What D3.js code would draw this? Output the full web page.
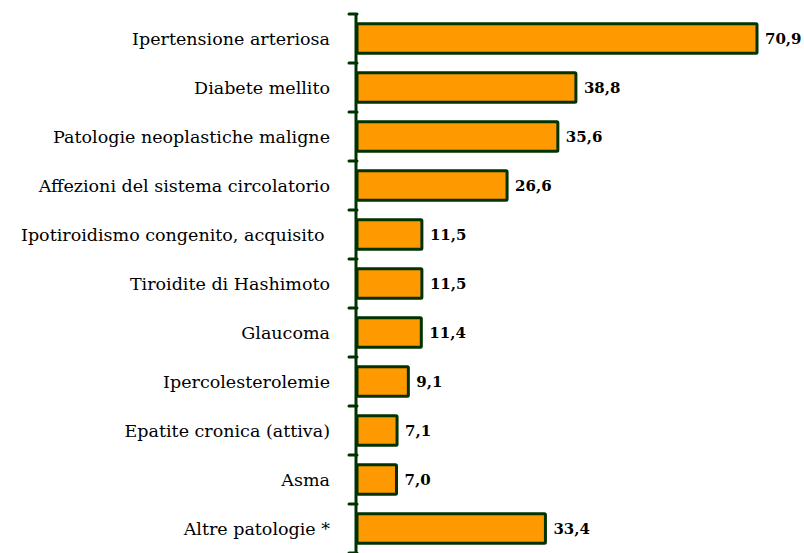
<!DOCTYPE html>
<html><head><meta charset="utf-8">
<script src="https://cdn.jsdelivr.net/npm/d3@7"></script>
<style>body{margin:0;background:#fff}svg{display:block}</style>
</head><body><svg id="c" width="804" height="553"></svg>
<script>
const categories = ["Ipertensione arteriosa","Diabete mellito","Patologie neoplastiche maligne","Affezioni del sistema circolatorio","Ipotiroidismo congenito, acquisito ","Tiroidite di Hashimoto","Glaucoma","Ipercolesterolemie","Epatite cronica (attiva)","Asma","Altre patologie *"];
const values = [70.9,38.8,35.6,26.6,11.5,11.5,11.4,9.1,7.1,7.0,33.4];
const valueLabels = ["70,9","38,8","35,6","26,6","11,5","11,5","11,4","9,1","7,1","7,0","33,4"];

const svg = d3.select("#c");
const x0 = 357;
const x = d3.scaleLinear().domain([0, 70.9]).range([x0, 757]);
const y = d3.scaleBand().domain(categories).range([14, 553]).paddingInner(0.4).paddingOuter(0.2);
const green = "#003300";

const data = categories.map((c,i)=>({c, v: values[i], l: valueLabels[i]}));

svg.selectAll("rect.bar").data(data).join("rect")
  .attr("class","bar")
  .attr("x", x(0)).attr("y", d=>y(d.c))
  .attr("width", d=>x(d.v)-x(0)).attr("height", y.bandwidth())
  .attr("fill","#ff9900").attr("stroke",green).attr("stroke-width",3).attr("rx",1);

// axis with tick marks at band boundaries
const tickVals = d3.range(categories.length+1).map(i=>y.range()[0] + i*y.step());
svg.append("line").attr("x1",356).attr("x2",356).attr("y1",14).attr("y2",553).attr("stroke",green).attr("stroke-width",3);
svg.selectAll("line.tick").data(tickVals).join("line").attr("class","tick")
  .attr("x1",349).attr("x2",357).attr("y1",d=>d).attr("y2",d=>d)
  .attr("stroke",green).attr("stroke-width",3).attr("stroke-linecap","round");

svg.selectAll("text.cat").data(data).join("text").attr("class","cat")
  .attr("x",330).attr("y",d=>y(d.c)+y.bandwidth()/2).attr("dy","0.35em")
  .attr("text-anchor","end").attr("font-family","DejaVu Serif").attr("font-size",17.5)
  .attr("fill","#000").style("white-space","pre").text(d=>d.c);

svg.selectAll("text.val").data(data).join("text").attr("class","val")
  .attr("x",d=>x(d.v)+8).attr("y",d=>y(d.c)+y.bandwidth()/2).attr("dy","0.35em")
  .attr("font-family","DejaVu Serif").attr("font-weight","bold").attr("font-size",15)
  .attr("fill","#000").text(d=>d.l);
</script></body></html>
